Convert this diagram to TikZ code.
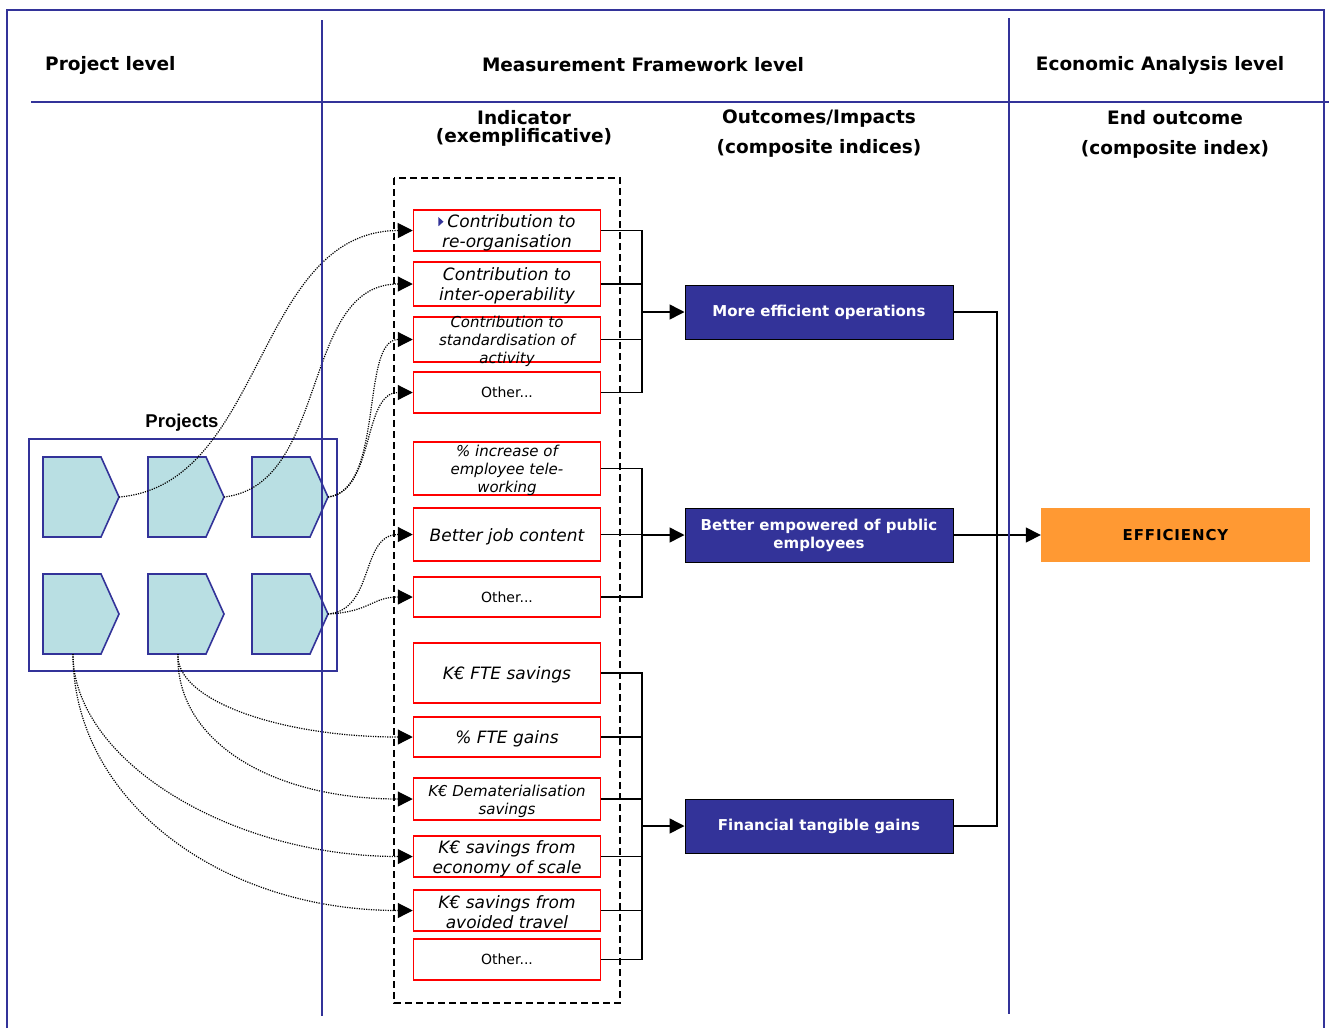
\documentclass[tikz,border=0pt]{standalone}
\usepackage{fontspec}
\setmainfont{DejaVu Sans}
\newfontfamily\arialfont{Liberation Sans}
\usetikzlibrary{arrows.meta}
\definecolor{navy}{HTML}{333399}
\definecolor{projfill}{HTML}{B9DFE3}
\definecolor{effor}{HTML}{FF9933}
\definecolor{indred}{HTML}{FF0000}

% one project shape (arrow pentagon) with its tip and bottom points
\newcommand\projshape[3]{%
  \draw[projshp] (#2,#3) -- ++(58,0) -- ++(18,40) -- ++(-18,40) -- ++(-58,0) -- cycle;
  \coordinate (#1tip) at (#2+76,#3+40);
  \coordinate (#1bot) at (#2+30,#3+80);}

% small bullet triangle used inside indicator text
\newcommand\navybullet{\tikz[baseline=0pt]\fill[navy] (0pt,1pt) -- (0pt,10pt) -- (5pt,5.5pt) -- cycle;}

\begin{document}
\begin{tikzpicture}[x=1pt,y=-1pt,
  rule/.style={draw=navy,line width=1.8pt},
  header/.style={font=\fontsize{18.5}{22}\selectfont\bfseries,inner sep=0pt},
  subhead/.style={header,align=center},
  projshp/.style={draw=navy,fill=projfill,line width=1.6pt,line join=miter},
  indbox/.style={draw=indred,line width=1.5pt,minimum width=187pt,inner sep=0pt,fill=white},
  txtshift/.style={yshift=-2pt},
  indtxt/.style={txtshift,font=\fontsize{17}{20}\selectfont\itshape,align=center,inner sep=0pt},
  indsmall/.style={txtshift,font=\fontsize{15}{18}\selectfont\itshape,align=center,inner sep=0pt},
  othertxt/.style={font=\fontsize{14}{17}\selectfont,inner sep=0pt},
  outbox/.style={draw=black,line width=1pt,fill=navy,text=white,minimum width=268pt,minimum height=54pt,
    inner sep=0pt,align=center,font=\fontsize{15}{18}\selectfont\bfseries},
  conn/.style={draw=black,line width=1.5pt},
  tip/.style={-{Triangle[length=15pt,width=15pt]}},
  dots/.style={draw=black,line width=1.2pt,dash pattern=on 1.2pt off 1.2pt,-{Triangle[length=15pt,width=15pt]}},
  dashbox/.style={draw=black,line width=1.8pt,dash pattern=on 7pt off 4pt}
]
\useasboundingbox (0,0) rectangle (1329,1028);

% outer frame (open at the bottom)
\draw[rule] (7,1028) -- (7,10) -- (1324,10) -- (1324,1028);

% column headings
\node[header,anchor=west] (hproj) at (45,65) {Project level};
\node[header] (hmeas) at (643,65) {Measurement Framework level};
\node[header] (hecon) at (1160,65) {Economic Analysis level};
\node[subhead,font=\fontsize{18.5}{18}\selectfont\bfseries] (hind) at (524,128) {Indicator\\(exemplificative)};
\node[subhead,font=\fontsize{18.5}{30}\selectfont\bfseries] (hout) at (819,134) {Outcomes/Impacts\\(composite indices)};
\node[subhead,font=\fontsize{18.5}{30}\selectfont\bfseries] (hend) at (1175,134) {End outcome\\(composite index)};

% projects
\node[font=\arialfont\fontsize{18.5}{22}\selectfont\bfseries] (projlbl) at (182,423) {Projects};
\node[draw=navy,line width=1.6pt,minimum width=308pt,minimum height=232pt,inner sep=0pt] (projframe) at (183,555) {};
\projshape{pa}{43}{457}
\projshape{pb}{148}{457}
\projshape{pc}{252}{457}
\projshape{pd}{43}{574}
\projshape{pe}{148}{574}
\projshape{pf}{252}{574}

% indicator area
\draw[dashbox] (394,178) rectangle (620,1003);

\node[indbox,minimum height=41pt] (ib1) at (507,230.5) {};
\node[indtxt] (it1) at (ib1) {\navybullet\hspace{4pt}Contribution to\\re-organisation};
\node[indbox,minimum height=44pt] (ib2) at (507,284) {};
\node[indtxt] (it2) at (ib2) {Contribution to\\inter-operability};
\node[indbox,minimum height=45pt] (ib3) at (507,339.5) {};
\node[indsmall] (it3) at (ib3) {Contribution to\\standardisation of\\activity};
\node[indbox,minimum height=41pt] (ib4) at (507,392.5) {};
\node[othertxt] (it4) at (ib4) {Other...};

\node[indbox,minimum height=53pt] (ib5) at (507,468.5) {};
\node[indsmall] (it5) at (ib5) {\% increase of\\employee tele-\\working};
\node[indbox,minimum height=53pt] (ib6) at (507,534.5) {};
\node[indtxt] (it6) at (ib6) {Better job content};
\node[indbox,minimum height=40pt] (ib7) at (507,597) {};
\node[othertxt] (it7) at (ib7) {Other...};

\node[indbox,minimum height=60pt] (ib8) at (507,673) {};
\node[indtxt] (it8) at (ib8) {K€ FTE savings};
\node[indbox,minimum height=40pt] (ib9) at (507,737) {};
\node[indtxt] (it9) at (ib9) {\% FTE gains};
\node[indbox,minimum height=42pt] (ib10) at (507,799) {};
\node[indsmall] (it10) at (ib10) {K€ Dematerialisation\\savings};
\node[indbox,minimum height=41pt] (ib11) at (507,856.5) {};
\node[indtxt] (it11) at (ib11) {K€ savings from\\economy of scale};
\node[indbox,minimum height=41pt] (ib12) at (507,910.5) {};
\node[indtxt] (it12) at (ib12) {K€ savings from\\avoided travel};
\node[indbox,minimum height=41pt] (ib13) at (507,959.5) {};
\node[othertxt] (it13) at (ib13) {Other...};

% outcomes and end outcome
\node[outbox] (oc1) at (819,312) {More efficient operations};
\node[outbox] (oc2) at (819,535) {Better empowered of public\\employees};
\node[outbox] (oc3) at (819,826) {Financial tangible gains};
\node[fill=effor,minimum width=269pt,minimum height=54pt,inner sep=0pt,
  font=\fontsize{15}{18}\selectfont\bfseries\addfontfeature{LetterSpace=6}] (eff) at (1175.5,535) {EFFICIENCY};

% indicator -> outcome connectors
\coordinate (bus1) at (642,312);
\coordinate (bus2) at (642,535);
\coordinate (bus3) at (642,826);
\foreach \i in {1,2,3,4} \draw[conn] (ib\i.east) -| (bus1);
\foreach \i in {5,6,7} \draw[conn] (ib\i.east) -| (bus2);
\foreach \i in {8,9,10,11,12,13} \draw[conn] (ib\i.east) -| (bus3);
\draw[conn,tip] (bus1) -- (oc1.west);
\draw[conn,tip] (bus2) -- (oc2.west);
\draw[conn,tip] (bus3) -- (oc3.west);

% outcome -> end outcome connectors
\coordinate (rbus) at (997,535);
\draw[conn] (oc1.east) -| (rbus);
\draw[conn] (oc3.east) -| (rbus);
\draw[conn,tip] (oc2.east) -- (eff.west);

% project -> indicator links
\draw[dots] (patip) .. controls (265,485) and (255,231) .. (ib1.west);
\draw[dots] (pbtip) .. controls (330,485) and (300,284) .. (ib2.west);
\draw[dots] (pctip) .. controls (385,490) and (360,339.5) .. (ib3.west);
\draw[dots] (pctip) .. controls (375,492) and (362,392.5) .. (ib4.west);
\draw[dots] (pftip) .. controls (375,610) and (360,534.5) .. (ib6.west);
\draw[dots] (pftip) .. controls (370,612) and (372,597) .. (ib7.west);
\draw[dots] (pebot) .. controls (175,700) and (280,737) .. (ib9.west);
\draw[dots] (pebot) .. controls (175,740) and (270,799) .. (ib10.west);
\draw[dots] (pdbot) .. controls (73,760) and (230,856.5) .. (ib11.west);
\draw[dots] (pdbot) .. controls (73,800) and (220,910.5) .. (ib12.west);

% column rules
\draw[rule] (31,102) -- (1329,102);
\draw[rule] (322,20) -- (322,1016);
\draw[rule] (1009,18) -- (1009,1014);
\end{tikzpicture}
\end{document}
